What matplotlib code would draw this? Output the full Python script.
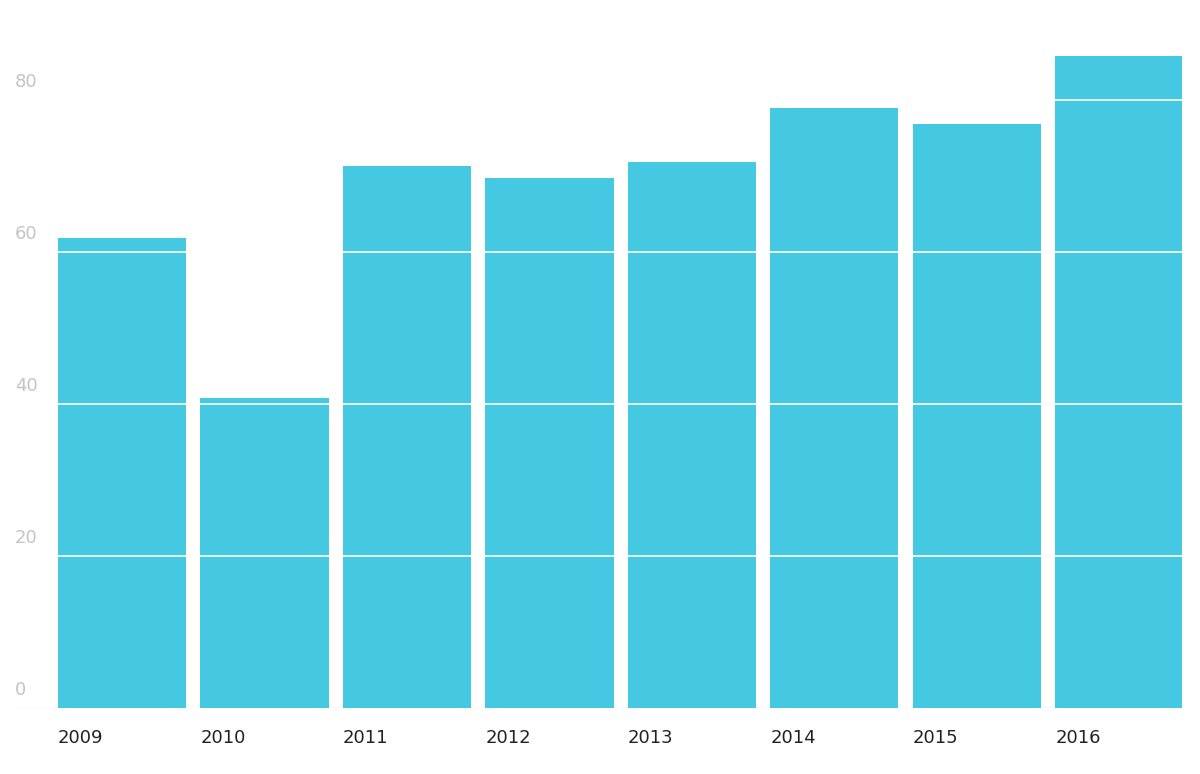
import matplotlib
matplotlib.use("Agg")
import matplotlib.pyplot as plt

years = ["2009", "2010", "2011", "2012", "2013", "2014", "2015", "2016"]
values = [61.8, 40.8, 71.3, 69.7, 71.8, 78.9, 76.8, 85.8]
yticks = [0, 20, 40, 60, 80]

fig = plt.figure(figsize=(12, 7.74), dpi=100)
ax = fig.add_axes([15/1200, 1-708/774, (1182-15)/1200, (708-40)/774])
x = list(range(len(years)))
ax.bar(x, values, width=0.9, color="#45c8e2", zorder=1)
for t in yticks[1:]:
    ax.axhline(t, color="white", lw=1.2, zorder=2)
ax.axhline(0, color="#dddddd", lw=1, zorder=0)
ax.set_xlim(-0.751, 7.44)
ax.set_ylim(0, 87.9)
for t in yticks:
    ax.text(-0.751, t + 1.2, str(t), color="#c4c4c4", fontsize=13, ha="left", va="bottom")
for i, y in enumerate(years):
    ax.text(i - 0.45, -2.8, y, color="#222222", fontsize=13, ha="left", va="top")
ax.axis("off")
fig.savefig("out.png", dpi=100)
